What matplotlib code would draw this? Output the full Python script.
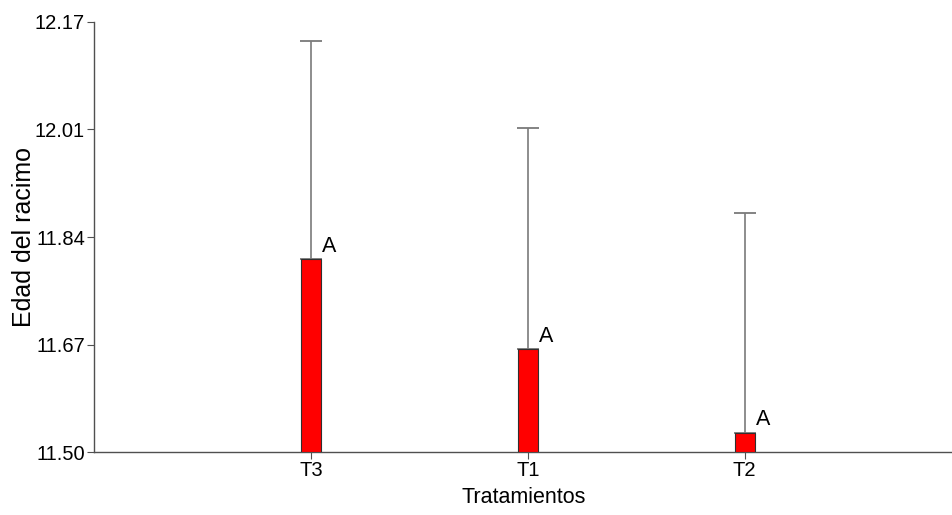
"""Barras con error estándar para la edad del racimo por tratamiento."""

import matplotlib

matplotlib.use("Agg")
import matplotlib.pyplot as plt
import numpy as np

tratamientos = ["T3", "T1", "T2"]
medias = [11.80, 11.66, 11.53]
error_sup = [0.34, 0.345, 0.343]
letras = ["A", "A", "A"]
yticks = [11.50, 11.6675, 11.835, 12.0025, 12.17]
ytick_labels = ["11.50", "11.67", "11.84", "12.01", "12.17"]

fuente = ["Liberation Sans", "DejaVu Sans"]

fig = plt.figure(figsize=(9.53, 5.15), dpi=100)
ax = fig.add_axes([0.0986, 0.1223, 0.9014, 0.8350])

x = np.arange(1, len(tratamientos) + 1)
base = yticks[0]
ax.bar(x, np.array(medias) - base, bottom=base, width=0.09,
       color="#ff0000", edgecolor="#303030", linewidth=0.8, zorder=3)
ax.errorbar(x, medias, yerr=[np.zeros(len(x)), error_sup], fmt="none",
            ecolor="#7a7a7a", elinewidth=1.2, capsize=8, capthick=1.3,
            zorder=2)
for xi, m, letra in zip(x, medias, letras):
    ax.text(xi + 0.05, m + 0.004, letra, ha="left", va="bottom",
            fontsize=15.5, family=fuente, color="black")

ax.set_xlim(0.0, 3.96)
ax.set_ylim(yticks[0], yticks[-1])
ax.set_xticks(x)
ax.set_xticklabels(tratamientos, family=fuente, fontsize=14.5)
ax.set_yticks(yticks)
ax.set_yticklabels(ytick_labels, family=fuente, fontsize=14.5)
ax.tick_params(axis="both", direction="out", length=5, width=0.8,
               color="#505050", pad=1.5)

for side in ("top", "right"):
    ax.spines[side].set_visible(False)
for side in ("left", "bottom"):
    ax.spines[side].set_color("#505050")
    ax.spines[side].set_linewidth(1.0)

ax.set_xlabel("Tratamientos", family=fuente, fontsize=15.5, labelpad=5)
ax.set_ylabel("Edad del racimo", family=fuente, fontsize=18)
ax.yaxis.set_label_coords(-0.068, 0.5)

fig.savefig("out.png", dpi=100)
